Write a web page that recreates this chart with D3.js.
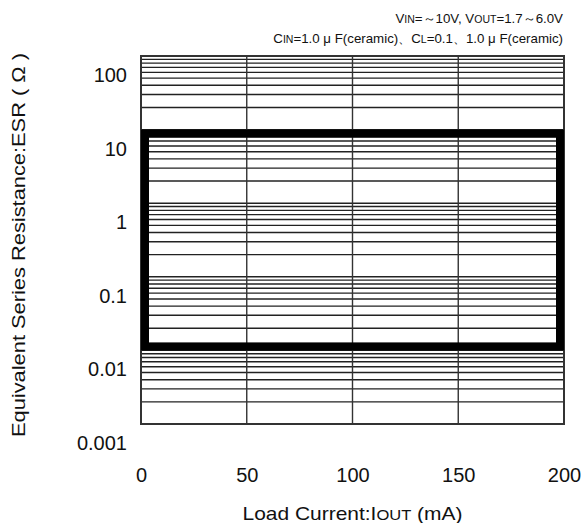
<!DOCTYPE html>
<html>
<head>
<meta charset="utf-8">
<script src="https://cdn.jsdelivr.net/npm/d3@7"></script>
<style>
  body { margin: 0; background: #fff; }
  text { font-family: "Liberation Sans", Arial, sans-serif; fill: #111; }
</style>
</head>
<body>
<div id="chart"></div>
<script>
// data
var xTicks = [0, 50, 100, 150, 200];
var yTicks = [0.001, 0.01, 0.1, 1, 10, 100];
var yTickLabels = ["0.001", "0.01", "0.1", "1", "10", "100"];
var regionCurrent = [0, 200];   // mA
var regionESR = [0.01, 10];     // ohm
var noteLines = [
  [["V", 0], ["IN", 1], ["=～10V, V", 0], ["OUT", 1], ["=1.7～6.0V", 0]],
  [["C", 0], ["IN", 1], ["=1.0 μ F(ceramic)、C", 0], ["L", 1], ["=0.1、1.0 μ F(ceramic)", 0]]
];

var svgWidth = 584;
var svgHeight = 523;
var margin = { top: 56, right: 20, bottom: 99, left: 141 };
var chartWidth = svgWidth - margin.left - margin.right;
var chartHeight = svgHeight - margin.top - margin.bottom;

var svg = d3.select("#chart").append("svg")
  .attr("width", svgWidth)
  .attr("height", svgHeight);

var chartGroup = svg.append("g")
  .attr("transform", `translate(${margin.left}, ${margin.top})`);

var x = d3.scaleLinear().domain([0, 200]).range([0, chartWidth]);
var y = d3.scaleLog().domain([0.001, 100]).range([chartHeight, 0]);

// horizontal log grid
chartGroup.append("g")
  .selectAll("line")
  .data(y.ticks())
  .enter()
  .append("line")
  .attr("x1", 0)
  .attr("x2", chartWidth)
  .attr("y1", d => y(d))
  .attr("y2", d => y(d))
  .attr("stroke", "#222")
  .attr("stroke-width", 1.4);

// vertical grid
chartGroup.append("g")
  .selectAll("line")
  .data(xTicks.slice(1, -1))
  .enter()
  .append("line")
  .attr("x1", d => x(d))
  .attr("x2", d => x(d))
  .attr("y1", 0)
  .attr("y2", chartHeight)
  .attr("stroke", "#333")
  .attr("stroke-width", 1.4);

// frame
chartGroup.append("rect")
  .attr("width", chartWidth)
  .attr("height", chartHeight)
  .attr("fill", "none")
  .attr("stroke", "#333")
  .attr("stroke-width", 2);

// stable region (drawn inside the bounds)
var sw = 8;
chartGroup.append("rect")
  .attr("x", x(regionCurrent[0]) + sw / 2)
  .attr("y", y(regionESR[1]) + sw / 2)
  .attr("width", x(regionCurrent[1]) - x(regionCurrent[0]) - sw)
  .attr("height", y(regionESR[0]) - y(regionESR[1]) - sw)
  .attr("fill", "none")
  .attr("stroke", "#000")
  .attr("stroke-width", sw);

// y labels (sit a little below their lines, as in the original)
var leftAxis = d3.axisLeft(y)
  .tickValues(yTicks)
  .tickFormat((d, i) => yTickLabels[i])
  .tickSize(0)
  .tickPadding(14);
var yAxis = chartGroup.append("g").call(leftAxis);
yAxis.select(".domain").remove();
yAxis.selectAll("text")
  .attr("dy", "0.35em")
  .attr("transform", "translate(0, 18.5)")
  .style("font-size", "20px")
  .style("font-family", "Liberation Sans, Arial, sans-serif")
  .attr("fill", "#111");

// x labels
var bottomAxis = d3.axisBottom(x)
  .tickValues(xTicks)
  .tickFormat(d3.format("d"))
  .tickSize(0)
  .tickPadding(44);
var xAxis = chartGroup.append("g")
  .attr("transform", `translate(0, ${chartHeight})`)
  .call(bottomAxis);
xAxis.select(".domain").remove();
xAxis.selectAll("text")
  .style("font-size", "20px")
  .style("font-family", "Liberation Sans, Arial, sans-serif")
  .attr("fill", "#111");

// x title
var xTitle = svg.append("text")
  .attr("x", margin.left + x(100))
  .attr("y", 520)
  .attr("text-anchor", "middle")
  .attr("textLength", 220)
  .attr("lengthAdjust", "spacingAndGlyphs")
  .style("font-size", "19px");
xTitle.append("tspan").text("Load Current:I");
xTitle.append("tspan").style("font-size", "15px").text("OUT");
xTitle.append("tspan").text(" (mA)");

// y title
svg.append("text")
  .attr("transform", "translate(25, 245) rotate(-90)")
  .attr("text-anchor", "middle")
  .attr("textLength", 384)
  .attr("lengthAdjust", "spacingAndGlyphs")
  .style("font-size", "19px")
  .text("Equivalent Series Resistance:ESR ( Ω )");

// conditions note
noteLines.forEach(function(parts, i) {
  var t = svg.append("text")
    .attr("x", 563)
    .attr("y", 23 + i * 20)
    .attr("text-anchor", "end")
    .style("font-size", "13.3px");
  parts.forEach(function(p) {
    t.append("tspan")
      .style("font-size", p[1] ? "10.5px" : "13.3px")
      .text(p[0]);
  });
});
</script>
</body>
</html>
